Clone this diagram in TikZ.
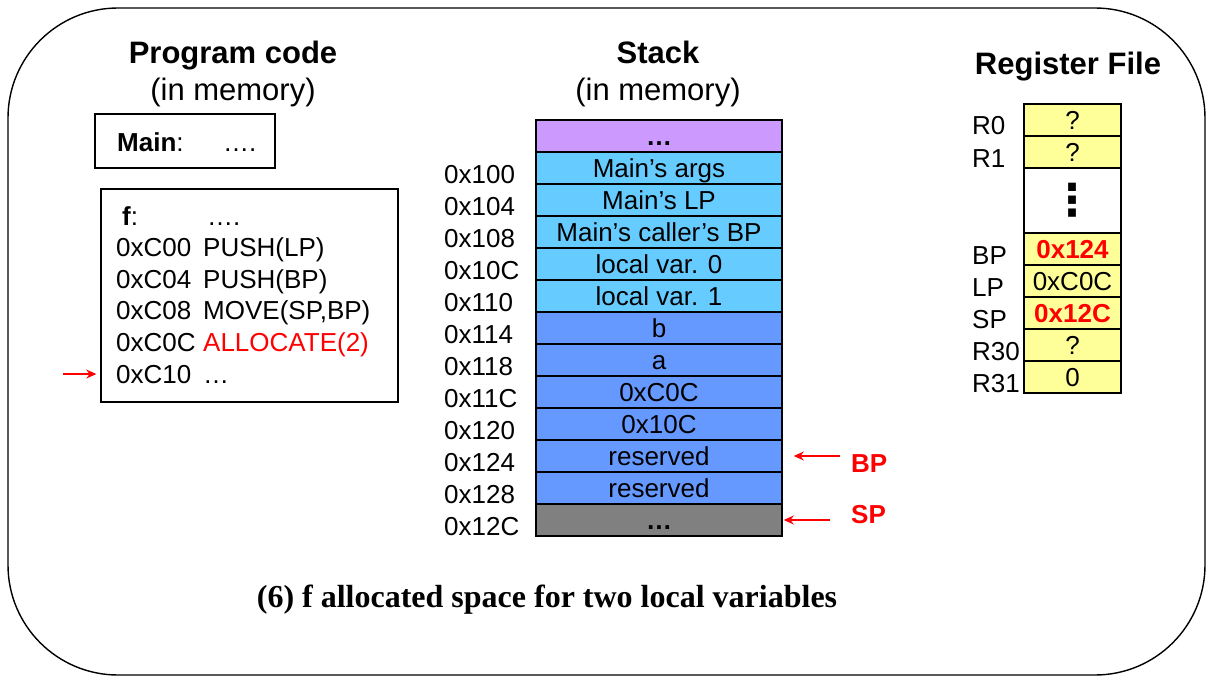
\documentclass[tikz,border=0pt]{standalone}
\usepackage{fontspec}
\setmainfont{Liberation Sans}
\newfontfamily\captionfont{Liberation Serif}
\newfontfamily\symfont{DejaVu Sans}
\usetikzlibrary{arrows.meta}
\definecolor{framepurple}{HTML}{CC99FF}
\definecolor{framecyan}{HTML}{66CCFF}
\definecolor{frameblue}{HTML}{6699FF}
\definecolor{framegray}{HTML}{808080}
\definecolor{regyellow}{HTML}{FFFF99}
\definecolor{alert}{HTML}{FF0000}
\tikzset{
  txt/.style={font=\fontsize{26}{30}\selectfont, inner sep=0pt, anchor=base west},
  heading/.style={font=\fontsize{31}{36}\selectfont, inner sep=0pt, anchor=base},
  cell/.style={draw, line width=1.6pt, minimum width=246pt, minimum height=32pt, inner sep=0pt,
    text height=18pt, text depth=0pt, font=\fontsize{26}{30}\selectfont},
  regcell/.style={cell, minimum width=97pt, fill=regyellow},
  pointer/.style={draw=alert, line width=1.4pt, -{Stealth[length=10pt,width=9pt]}},
}

\begin{document}
\begin{tikzpicture}[x=1pt, y=-1pt]
  \useasboundingbox (0,0) rectangle (1211,677);
  \draw[line width=1.4pt, rounded corners=110pt] (8,8) rectangle (1205,675);

  \node[heading] (codetitle) at (233,64) {\bfseries Program code};
  \node[heading] (codesub) at (233,101) {(in memory)};
  \node[draw, line width=1.4pt, minimum width=180pt, minimum height=54pt] (mainbox) at (185,141) {};
  \node[txt] (mainlbl) at (117,151) {\textbf{Main}:};
  \node[txt] (maindots) at (223,151) {….};
  \node[draw, line width=1.4pt, minimum width=297pt, minimum height=213pt] (fbox) at (249.5,295.5) {};
  \node[txt] (flbl) at (122,225) {\textbf{f}:};
  \node[txt] (fdots) at (207,225) {….};
  \foreach \addr/\instr [count=\k] in {0xC00/PUSH(LP), 0xC04/PUSH(BP), 0xC08/{MOVE(SP,BP)},
      0xC0C/{\textcolor{alert}{ALLOCATE(2)}}, 0xC10/…}{
    \node[txt] (c\k) at (116,{225+31.6*\k}) {\addr};
    \node[txt] (i\k) at (203,{225+31.6*\k}) {\instr};
  }
  \path (fbox.west |- c5.center) coordinate (pc);
  \draw[pointer] ([xshift=-37pt]pc) -- ([xshift=-4pt]pc);

  \node[heading] (stacktitle) at (658,64) {\bfseries Stack};
  \node[heading] (stacksub) at (658,101) {(in memory)};
  \node[cell, fill=framepurple] (s0) at (659,136) {\textbf{…}};
  \foreach \txt/\col/\addr [count=\k] in {Main’s args/framecyan/0x100, Main’s LP/framecyan/0x104,
      Main’s caller’s BP/framecyan/0x108, local var. 0/framecyan/0x10C, local var. 1/framecyan/0x110,
      b/frameblue/0x114, a/frameblue/0x118, 0xC0C/frameblue/0x11C, 0x10C/frameblue/0x120,
      reserved/frameblue/0x124, reserved/frameblue/0x128, \textbf{…}/framegray/0x12C}{
    \node[cell, fill=\col] (s\k) at (659,{136+32*\k}) {\txt};
    \node[txt] (a\k) at (444,{151+32*\k}) {\addr};
  }
  \node[txt, text=alert] (bplbl) at (851,472) {\textbf{BP}};
  \node[txt, text=alert] (splbl) at (851,523) {\textbf{SP}};
  \path (bplbl.west |- s10.east) coordinate (bptail);
  \path (splbl.west |- s12.east) coordinate (sptail);
  \draw[pointer] ([xshift=-11pt]bptail) -- ([xshift=11pt]s10.east);
  \draw[pointer] ([xshift=-21pt]sptail) -- ([xshift=1pt]s12.east);

  \node[heading] (regtitle) at (1068,75) {\bfseries Register File};
  \foreach \reg/\val/\yc in {R0/?/120, R1/?/152, BP/{\textcolor{alert}{\textbf{0x124}}}/249,
      LP/0xC0C/281, SP/{\textcolor{alert}{\textbf{0x12C}}}/313, R30/?/345, R31/0/377}{
    \node[regcell] (reg\reg) at (1072.5,\yc) {\val};
    \node[txt] (lbl\reg) at (972,{\yc+15}) {\reg};
  }
  \node[regcell, minimum height=65pt, fill=white] (regdots) at (1072.5,200.5) {};
  \node[font=\symfont\fontsize{44}{48}\selectfont\bfseries, inner sep=0pt] (vdots) at (regdots) {⋮};

  \node[heading, font=\captionfont\fontsize{32}{38}\selectfont\bfseries] (caption) at (547,607)
    {(6) f allocated space for two local variables};
\end{tikzpicture}
\end{document}
